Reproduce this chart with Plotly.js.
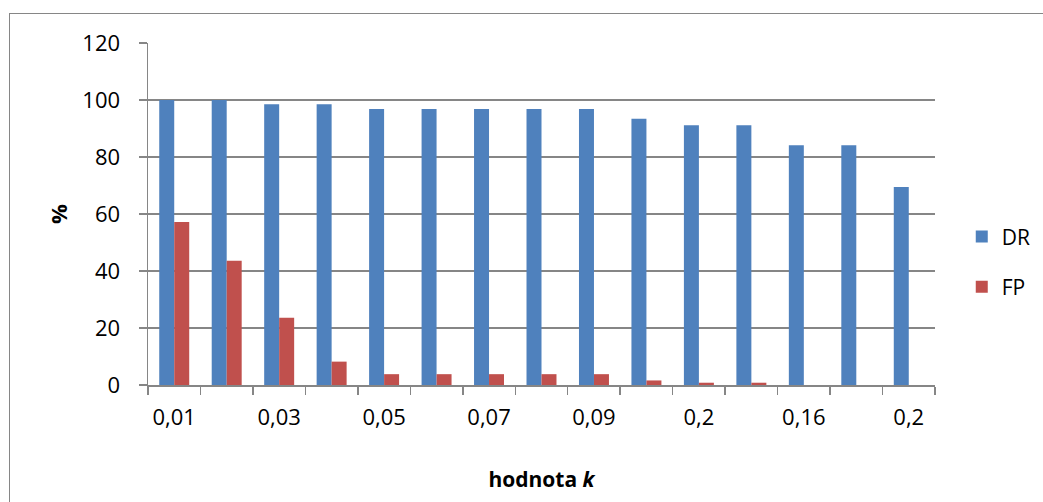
<!DOCTYPE html>
<html>
<head>
<meta charset="utf-8">
<script src="https://cdn.plot.ly/plotly-3.0.1.min.js"></script>
<style>
  html, body { margin: 0; padding: 0; background: #fff; overflow: hidden; }
  #frame { position: absolute; left: 9px; top: 13px; width: 1100px; height: 600px; border: 1px solid #868686; box-sizing: border-box; }
  #chart { position: absolute; left: 0; top: 0; width: 1043px; height: 502px; }
</style>
</head>
<body>
<div id="frame"></div>
<div id="chart"></div>
<script>
const categories = ['0,01','0,02','0,03','0,04','0,05','0,06','0,07','0,08','0,09','0,1','0,2','0,14','0,16','0,18','0,2'];
const drValues = [100, 100, 98.5, 98.5, 96.8, 96.8, 96.8, 96.8, 96.8, 93.4, 91.1, 91.1, 84.1, 84.1, 69.5];
const fpValues = [57.2, 43.6, 23.6, 8.2, 3.8, 3.8, 3.8, 3.8, 3.8, 1.6, 0.8, 0.8, 0, 0, 0];
const seriesNames = ['DR', 'FP'];
const yTicks = [0, 20, 40, 60, 80, 100, 120];

const idx = categories.map((c, i) => i);
const labelIdx = idx.filter(i => i % 2 === 0);
const boundaries = idx.map(i => i - 0.5).concat([categories.length - 0.5]);

const FONT = 'Open Sans, Liberation Sans, sans-serif';
const GRID = '#868686';

const traces = [
  { type: 'bar', name: seriesNames[0], x: idx, y: drValues, legendgroup: 'a',
    marker: { color: '#4F81BD', line: { width: 0 } } },
  { type: 'bar', name: seriesNames[1], x: idx, y: fpValues, legendgroup: 'b',
    marker: { color: '#C0504D', line: { width: 0 } } }
];

const layout = {
  width: 1043, height: 502,
  margin: { l: 148, r: 108, t: 43, b: 117, autoexpand: false },
  paper_bgcolor: 'rgba(0,0,0,0)', plot_bgcolor: 'rgba(0,0,0,0)',
  font: { family: FONT, size: 22, color: '#000' },
  barmode: 'group', bargap: 0.4286, bargroupgap: 0,
  showlegend: true,
  legend: { x: 1.034, y: 0.36, xanchor: 'left', yanchor: 'middle',
            font: { family: FONT, size: 21 }, tracegroupgap: 20,
            traceorder: 'grouped', itemwidth: 30 },
  xaxis: {
    range: [-0.5, categories.length - 0.5],
    tickmode: 'array', tickvals: labelIdx, ticktext: labelIdx.map(i => categories[i]),
    ticks: '', ticklabelstandoff: 12,
    showline: true, linecolor: GRID, linewidth: 1.5,
    showgrid: false, zeroline: false, automargin: false,
    minor: { tickmode: 'array', tickvals: boundaries, ticks: 'outside', ticklen: 8, tickcolor: GRID, tickwidth: 1.5, showgrid: false },
    title: { text: '<b>hodnota <i>k</i></b>', font: { family: FONT, size: 21 }, standoff: 42 }
  },
  yaxis: {
    range: [0, 120], tickmode: 'array', tickvals: yTicks,
    ticks: 'outside', ticklen: 8, tickcolor: GRID, tickwidth: 1.5,
    ticklabelstandoff: 14,
    showline: true, linecolor: GRID, linewidth: 1.5,
    showgrid: true, gridcolor: GRID, gridwidth: 1.5, zeroline: false, automargin: false,
    title: { text: '<b>%</b>', font: { family: FONT, size: 22 }, standoff: 8 }
  }
};

Plotly.newPlot('chart', traces, layout, { displayModeBar: false, staticPlot: true });
</script>
</body>
</html>
